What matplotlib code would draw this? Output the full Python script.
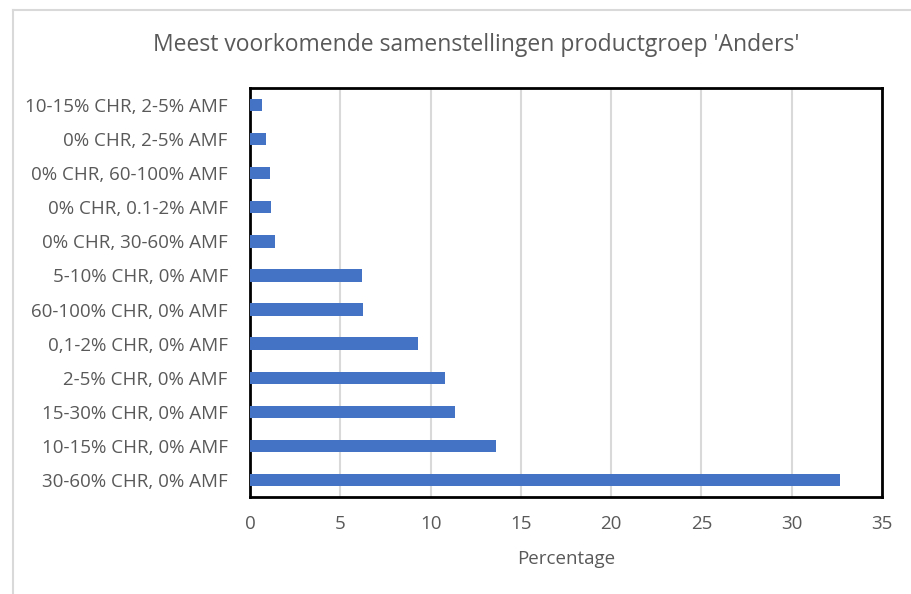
import matplotlib.pyplot as plt
from matplotlib.lines import Line2D

# data (top to bottom)
labels = ["10-15% CHR, 2-5% AMF", "0% CHR, 2-5% AMF", "0% CHR, 60-100% AMF",
          "0% CHR, 0.1-2% AMF", "0% CHR, 30-60% AMF", "5-10% CHR, 0% AMF",
          "60-100% CHR, 0% AMF", "0,1-2% CHR, 0% AMF", "2-5% CHR, 0% AMF",
          "15-30% CHR, 0% AMF", "10-15% CHR, 0% AMF", "30-60% CHR, 0% AMF"]
values = [0.65, 0.9, 1.1, 1.15, 1.4, 6.2, 6.25, 9.3, 10.8, 11.35, 13.6, 32.7]
xticks = [0, 5, 10, 15, 20, 25, 30, 35]

plt.rcParams['font.family'] = ['Open Sans', 'DejaVu Sans']
txt = '#595959'

fig = plt.figure(figsize=(9.11, 5.94), dpi=100)
ax = fig.add_axes([250/911, 1 - 497/594, 632/911, (497 - 88)/594])

# outer chart border (only top and left visible in the reference)
fig.add_artist(Line2D([12.5/911, 12.5/911], [0, 1 - 9.5/594], transform=fig.transFigure,
                      color='#d9d9d9', lw=1.5))
fig.add_artist(Line2D([12.5/911, 1], [1 - 9.5/594, 1 - 9.5/594], transform=fig.transFigure,
                      color='#d9d9d9', lw=1.5))

ypos = list(range(len(labels)))[::-1]
ax.barh(ypos, values, height=0.36, color='#4472C4', zorder=3)

ax.set_xlim(0, 35)
ax.set_ylim(-0.5, len(labels) - 0.5)
ax.set_xticks(xticks)
ax.set_yticks(ypos)
ax.set_yticklabels(labels)
ax.grid(axis='x', color='#d9d9d9', lw=1.5, zorder=0)
ax.tick_params(length=0, labelsize=13.5, colors=txt)
ax.tick_params(axis='y', pad=16)
ax.tick_params(axis='x', pad=13)
for s in ax.spines.values():
    s.set_color('black')
    s.set_linewidth(2)

ax.set_xlabel('Percentage', fontsize=13.5, color=txt, labelpad=12)
fig.text(476/911, 1 - 45/594, "Meest voorkomende samenstellingen productgroep 'Anders'",
         ha='center', va='center', fontsize=16.5, color=txt)

fig.savefig('out.png', dpi=100)
